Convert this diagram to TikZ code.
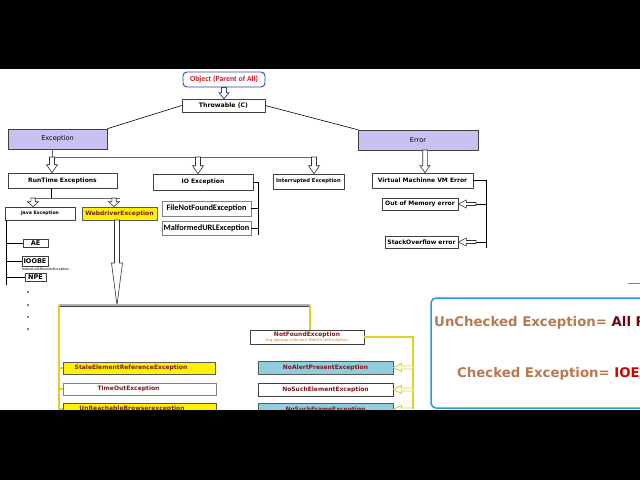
\documentclass[tikz,border=0pt]{standalone}
\usepackage{fontspec}
\setmainfont{DejaVu Sans}
\newfontfamily\calfont{Carlito}
\usetikzlibrary{calc}

\definecolor{lavfill}{RGB}{200,192,240}
\definecolor{skyfill}{RGB}{146,205,222}
\definecolor{selred}{RGB}{125,25,30}
\definecolor{objred}{RGB}{200,30,50}
\definecolor{objblue}{RGB}{60,60,170}
\definecolor{notebrown}{RGB}{185,120,80}
\definecolor{noteblue}{RGB}{40,155,215}
\definecolor{allred}{RGB}{120,0,10}
\definecolor{ioered}{RGB}{210,0,0}
\definecolor{wireyel}{RGB}{230,205,40}
\definecolor{subor}{RGB}{225,120,40}

\tikzset{
  box/.style={draw=black!75, fill=white, line width=0.6pt, inner sep=0pt,
    font=\bfseries\fontsize{6}{7}\selectfont},
  boxsize/.style 2 args={minimum width=#1pt, minimum height=#2pt},
  lavbox/.style={box, fill=lavfill, font=\fontsize{6.6}{8}\selectfont},
  selbox/.style={box, text=selred},
  yelbox/.style={selbox, fill=yellow, draw=black!65},
  skybox/.style={selbox, fill=skyfill, draw=black!65},
  calbox/.style={box, draw=gray, font=\calfont\bfseries\fontsize{8.3}{9}\selectfont},
  hollow/.style={draw=black!80, fill=white, line width=0.6pt},
  wire/.style={black, line width=0.6pt},
  ywire/.style={wireyel, line width=1.2pt},
}

% hollow block arrows
\newcommand\fatdown[6][]{% start, end, shaft, head, head length
  \draw[hollow,#1] let \p1=(#2), \p2=(#3) in
    (\x1-#4,\y1) -- (\x1+#4,\y1) -- (\x1+#4,\y2+#6) -- (\x1+#5,\y2+#6)
    -- (\x1,\y2) -- (\x1-#5,\y2+#6) -- (\x1-#4,\y2+#6) -- cycle;}
\newcommand\fatleft[6][]{% start, end, shaft, head, head length
  \draw[hollow,#1] let \p1=(#2), \p2=(#3) in
    (\x1,\y1+#4) -- (\x2+#6,\y1+#4) -- (\x2+#6,\y1+#5) -- (\x2,\y1)
    -- (\x2+#6,\y1-#5) -- (\x2+#6,\y1-#4) -- (\x1,\y1-#4) -- cycle;}

\begin{document}
\begin{tikzpicture}[x=1pt,y=-1pt]
    \fill[white] (0,0) rectangle (640,480);
    \useasboundingbox (0,0) rectangle (640,480);

    % top of the tree
    \node[box, boxsize={82}{15}, draw=objblue, line width=0.9pt, rounded corners=4pt,
      text=objred, font=\calfont\bfseries\fontsize{7.8}{9}\selectfont] (obj) at (224,79.5) {Object (Parent of All)};
    \node[box, boxsize={83}{13}, font=\bfseries\fontsize{6.2}{7}\selectfont] (thr) at (223.5,105.5) {Throwable (C)};
    \node[lavbox, boxsize={99}{20}] (exc) at (57.5,139) {Exception};
    \node[lavbox, boxsize={120}{20}] (err) at (418,140) {Error};
    \fatdown[draw=objblue, line width=0.8pt]{obj.south}{thr.north}{2.5pt}{5pt}{6pt}
    \draw[wire] (thr.west) -- (exc.north east);
    \draw[wire] (thr.east) -- (err.north west);

    % exception side
    \node[box, boxsize={109}{15}] (rt) at (62.5,180.5) {RunTime Exceptions};
    \node[box, boxsize={100}{16}] (io) at (203,182) {IO Exception};
    \node[box, boxsize={71}{15}, font=\bfseries\fontsize{5.2}{6}\selectfont] (intr) at (308.5,181.5) {Interrupted Exception};
    \coordinate (ebus) at (52,157);
    \coordinate (ebusio) at (198,157);
    \coordinate (ebusend) at (314,157);
    \draw[black!60, line width=0.8pt] (exc.south -| ebus) -- (ebus) -- (ebusend);
    \fatdown{ebus}{rt.north}{2.5pt}{5.5pt}{8pt}
    \fatdown{ebusio}{io.north}{2.5pt}{5.5pt}{8pt}
    \fatdown{ebusend}{intr.north}{2.5pt}{5.5pt}{8pt}

    \node[calbox, boxsize={89}{15}] (fnf) at (206.5,208.5) {FileNotFoundException};
    \node[calbox, boxsize={89}{14}] (mal) at (206.5,228) {MalformedURLException};
    \coordinate (iox) at (258,183);
    \draw[wire] (io.east) -- (io.east -| iox) -- (iox |- mal.south);
    \draw[wire] (fnf.east) -- (fnf.east -| iox);
    \draw[wire] (mal.east) -- (mal.east -| iox);

    \node[box, boxsize={70}{13}, font=\bfseries\fontsize{4.6}{5}\selectfont] (java) at (40,213.5) {Java Exception};
    \node[yelbox, boxsize={75}{13}] (wd) at (119.5,213.5) {WebdriverException};
    \coordinate (rbus) at (51,198);
    \coordinate (rbusj) at (33,198);
    \coordinate (rbusw) at (114,198);
    \coordinate (rbusend) at (120,198);
    \draw[wire] (rt.south -| rbus) -- (rbus);
    \draw[black!60, line width=0.8pt] (rbusj) -- (rbusend);
    \fatdown{rbusj}{java.north}{2.2pt}{5.5pt}{5pt}
    \fatdown{rbusw}{wd.north}{2.2pt}{5.5pt}{5pt}

    % java runtime ones
    \node[box, boxsize={25}{8}, font=\bfseries\fontsize{6.5}{7}\selectfont] (ae) at (35.5,243) {AE};
    \node[box, boxsize={26}{10}, font=\bfseries\fontsize{6.5}{7}\selectfont] (ioobe) at (35,261) {IOOBE};
    \node[anchor=north west, inner sep=0pt, yshift=-1.5pt, font=\fontsize{3.3}{4}\selectfont] (ioobesub) at (ioobe.south west) {IndexOutOfBoundsException};
    \node[box, boxsize={21}{8}, font=\bfseries\fontsize{6.5}{7}\selectfont] (npe) at (35.5,277) {NPE};
    \coordinate (jtop) at (6,220);
    \coordinate (jbot) at (6,285);
    \draw[wire] (jtop) -- (jbot);
    \draw[wire] (ae.west -| jtop) -- (ae.west);
    \draw[wire] (ioobe.west -| jtop) -- (ioobe.west);
    \draw[wire] (npe.west -| jtop) -- (npe.west);
    \foreach \dy in {292,305,317,329}
        \fill (28,\dy) circle[radius=0.8pt];

    % selenium ones
    \coordinate (wdtop) at (117,220);
    \coordinate (barl) at (59,305);
    \coordinate (barr) at (310,305);
    \fatdown{wdtop}{barl -| wdtop}{2.5pt}{5.5pt}{42pt}
    \draw[black!75, double=gray!60, double distance=1.2pt, line width=0.9pt] (barl) -- (barr);
    \node[yelbox, boxsize={152}{12}] (stale) at (139,368) {StaleElementReferenceException\hspace*{16pt}};
    \node[selbox, boxsize={153}{12}, draw=gray] (tout) at (139.5,389) {TimeOutException\hspace*{22pt}};
    \node[yelbox, boxsize={153}{12}] (unr) at (139.5,409) {UnReachableBrowserexception\hspace*{15pt}};
    \coordinate (ylbot) at (59,412);
    \draw[ywire] (barl) -- (ylbot);
    \draw[ywire] (stale.west -| barl) -- (stale.west);
    \draw[ywire] (tout.west -| barl) -- (tout.west);
    \draw[ywire] (unr.west -| barl) -- (unr.west);

    \node[selbox, boxsize={114}{14}, align=center, font=\bfseries\fontsize{6}{5}\selectfont] (nf) at (307,337)
      {NotFoundException\\[0.5pt]{\mdseries\color{subor}\fontsize{3.9}{4}\selectfont org.openqa.selenium.WebDriverException}};
    \node[skybox, boxsize={135}{13}] (nap) at (325.5,367.5) {NoAlertPresentException};
    \node[selbox, boxsize={135}{13}] (nse) at (325.5,389.5) {NoSuchElementException};
    \node[skybox, boxsize={135}{13}] (nsf) at (325.5,409.5) {NoSuchFrameException};
    \coordinate (nfx) at (413,337);
    \draw[ywire] (barr) -- (barr |- nf.north);
    \draw[ywire] (nf.east) -- (nfx) -- (nfx |- ylbot);
    \fatleft[draw=wireyel, line width=0.9pt]{nap.east -| nfx}{nap.east}{1.5pt}{4pt}{8pt}
    \fatleft[draw=wireyel, line width=0.9pt]{nse.east -| nfx}{nse.east}{1.5pt}{4pt}{8pt}
    \fatleft[draw=wireyel, line width=0.9pt]{nsf.east -| nfx}{nsf.east}{1.5pt}{4pt}{8pt}

    % error side
    \node[box, boxsize={101}{15}] (vm) at (422.5,180.5) {Virtual Machinne VM Error};
    \node[box, boxsize={76}{12}] (oom) at (420,204) {Out of Memory error};
    \node[box, boxsize={73}{12}] (so) at (421.5,242) {StackOverflow error};
    \coordinate (errx) at (425,150);
    \fatdown{errx}{vm.north}{2.3pt}{5pt}{7pt}
    \coordinate (vmx) at (486,180.5);
    \coordinate (oomtail) at (476,204);
    \coordinate (sotail) at (476,242);
    \draw[wire] (vm.east) -- (vmx) -- (vmx |- so.south);
    \draw[wire] (oom.east -| vmx) -- (oomtail);
    \draw[wire] (so.east -| vmx) -- (sotail);
    \fatleft{oomtail}{oom.east}{1.5pt}{4pt}{8pt}
    \fatleft{sotail}{so.east}{1.5pt}{4pt}{8pt}

    % note on the right
    \begin{scope}
        \clip (0,0) rectangle (640,480);
        \draw[noteblue, line width=1.5pt, rounded corners=5pt] (431,298) rectangle (680,408);
        \draw[noteblue, line width=1pt] (628,283) -- (645,283);
        \node[anchor=base west, inner sep=0pt, text=notebrown, font=\bfseries\fontsize{13.3}{15}\selectfont] (uncheck) at (434,326)
          {UnChecked Exception= \textcolor{allred}{All R}};
        \node[anchor=base west, inner sep=0pt, text=notebrown, font=\bfseries\fontsize{13.3}{15}\selectfont] (check) at (457,377)
          {Checked Exception= \textcolor{ioered}{IOE}};
    \end{scope}

    % video bands
    \fill[black] (0,0) rectangle (640,69);
    \fill[black] (0,410) rectangle (640,480);
\end{tikzpicture}
\end{document}
